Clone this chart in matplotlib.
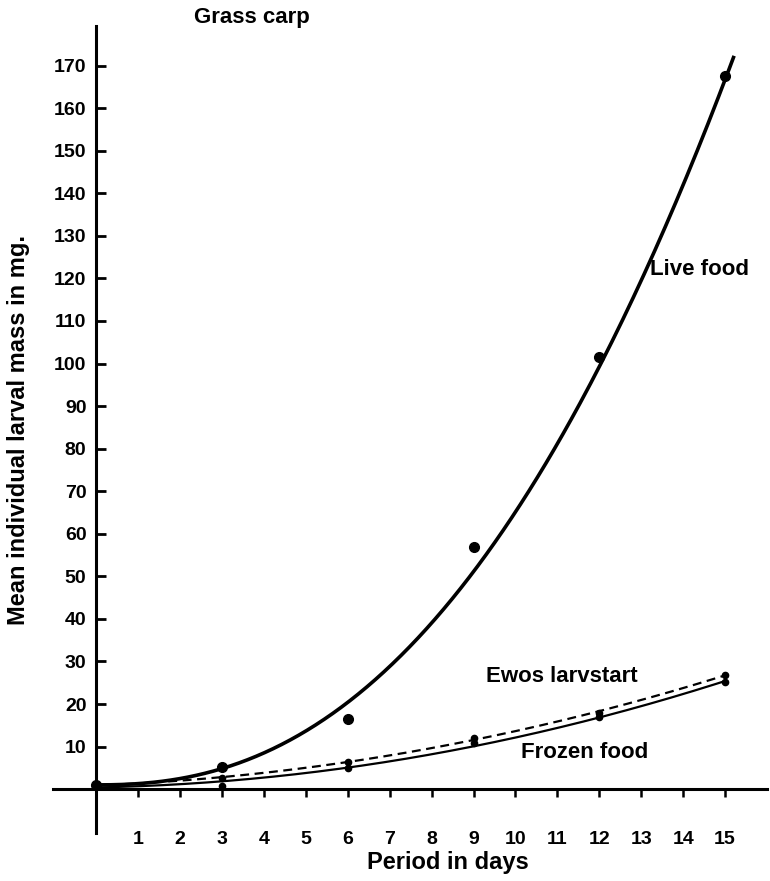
import numpy as np
from matplotlib import pyplot as plt

plt.rcParams['font.family'] = ['Liberation Sans', 'DejaVu Sans']
plt.rcParams['font.weight'] = 'bold'

# données (masse moyenne en mg)
jours = [0, 3, 6, 9, 12, 15]
live_food = [1.0, 5.2, 16.4, 56.9, 101.5, 167.5]
ewos = [1.0, 2.6, 6.3, 12.0, 18.0, 26.8]
frozen = [1.0, 0.8, 4.9, 10.8, 17.0, 25.1]

x_ticks = list(range(1, 16))
y_ticks = list(range(10, 180, 10))

fig = plt.figure(figsize=(7.7, 8.81), dpi=100)
ax = fig.add_axes([0.0688, 0.0545, 0.9273, 0.916])
ax.set_xlim(-1.03, 16.0)
ax.set_ylim(-10.3, 179.3)

for s in ['top', 'right']:
    ax.spines[s].set_visible(False)
ax.spines['left'].set_position(('data', 0))
ax.spines['bottom'].set_position(('data', 0))
ax.spines['left'].set_linewidth(2.2)
ax.spines['bottom'].set_linewidth(2.2)

ax.set_xticks(x_ticks)
ax.set_yticks(y_ticks)
ax.tick_params(axis='y', direction='in', length=7, width=2, pad=7, labelsize=14)
ax.tick_params(axis='x', direction='out', length=6, width=1.8, pad=24, labelsize=14)

# courbe "live food": ajustement en loi de puissance y = y0 + a*x^b
y0 = live_food[0]
lx = np.log(np.array(jours[1:], dtype=float))
ly = np.log(np.array(live_food[1:]) - y0)
b, la = np.polyfit(lx, ly, 1)
xs = np.linspace(0, 15.2, 300)
ax.plot(xs, y0 + np.exp(la) * xs ** b, color='black', lw=2.6, clip_on=False)

# les deux autres: ajustement quadratique
xs2 = np.linspace(0, 15, 200)
p_ewos = np.polyfit(jours, ewos, 2)
p_frozen = np.polyfit(jours, frozen, 2)
ax.plot(xs2, np.polyval(p_ewos, xs2), color='black', lw=1.6, ls=(0, (4, 2.5)))
ax.plot(xs2, np.polyval(p_frozen, xs2), color='black', lw=1.6)

ax.plot(jours, live_food, 'o', color='black', ms=7, clip_on=False)
ax.plot(jours, ewos, 'o', color='black', ms=4.5)
ax.plot(jours, frozen, 'o', color='black', ms=4.5)

ax.text(14.4, 122, 'Live food', fontsize=16, ha='center', va='center')
ax.text(11.1, 26.5, 'Ewos larvstart', fontsize=16, ha='center', va='center')
ax.text(11.65, 8.7, 'Frozen food', fontsize=16, ha='center', va='center')

fig.text(252 / 770, 1 - 18 / 881, 'Grass carp', fontsize=16, ha='center', va='center')
fig.text(448 / 770, 1 - 863 / 881, 'Period in days', fontsize=17, ha='center', va='center')
fig.text(19 / 770, 1 - 430 / 881, 'Mean individual larval mass in mg.', fontsize=17,
         ha='center', va='center', rotation=90)

fig.savefig('out.png', dpi=100)
